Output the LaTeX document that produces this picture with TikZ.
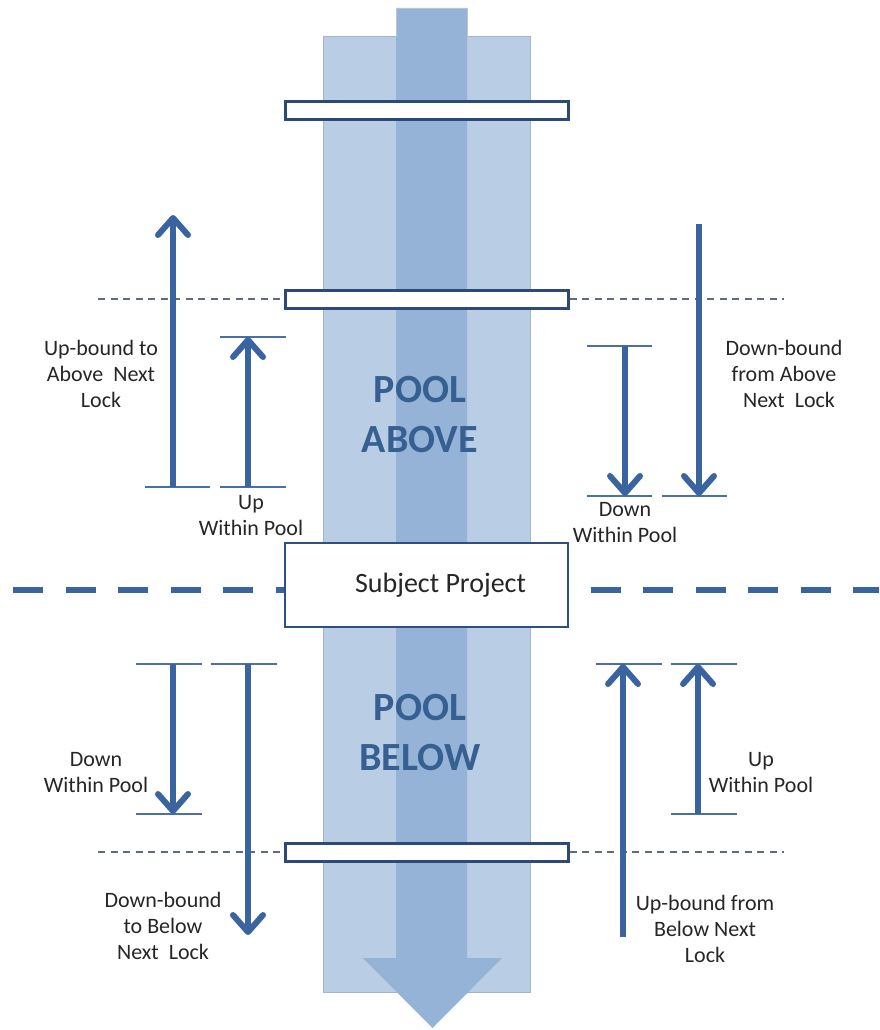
\documentclass[tikz,border=0pt]{standalone}
\usepackage{fontspec}
\setmainfont{Carlito}
\usetikzlibrary{arrows.meta}
\definecolor{colLight}{HTML}{B9CDE5}
\definecolor{colMid}{HTML}{95B3D7}
\definecolor{colDark}{HTML}{3A64A0}
\definecolor{colTick}{HTML}{4A6FA5}
\definecolor{colLock}{HTML}{2C4A78}
\definecolor{colText}{HTML}{376092}
\definecolor{colGray}{HTML}{5F6B80}
\definecolor{colEdge}{HTML}{A7B4C6}
\definecolor{colLabel}{HTML}{262626}
\begin{document}
\begin{tikzpicture}[x=1pt,y=-1pt,
  flowarrow/.style={line width=6pt, draw=colDark, -{Straight Barb[length=17pt,width=30pt,line width=6pt,round]}},
  tickline/.style={line width=2pt, draw=colTick},
  lockbox/.style={draw=colLock, line width=3pt, fill=white, minimum width=283pt, minimum height=18pt, inner sep=0pt},
  subjbox/.style={draw=colLock!80!colDark, line width=2.5pt, fill=white, minimum width=283pt, minimum height=84pt, inner sep=0pt, font=\fontsize{28}{32}\selectfont, text=colLabel},
  lbl/.style={font=\fontsize{22}{26}\selectfont, align=center, text=colLabel, inner sep=0pt},
  pooltext/.style={font=\bfseries\fontsize{40}{50}\selectfont, align=center, text=colText, inner sep=0pt},
  bigdash/.style={line width=6pt, draw=colDark, dash pattern=on 30pt off 22.5pt},
  thindash/.style={line width=2pt, draw=colGray, dash pattern=on 7pt off 5.5pt}
]
\useasboundingbox (0,0) rectangle (879,1030);

% channel and flow
\fill[colLight] (323,37) rectangle (530,992);
\draw[colEdge, line width=1pt] (323,37) rectangle (530,992);
\fill[colMid] (396,8) -- (467,8) -- (467,958) -- (502,958) -- (432.5,1028) -- (363,958) -- (396,958) -- cycle;
\draw[colEdge!80, line width=0.8pt] (396,37) -- (396,8) -- (467,8) -- (467,37);

% thick dashed boundary
\coordinate (dL) at (13,590);
\coordinate (dR) at (879,590);
\draw[bigdash] (dL) -- (dR);

% locks
\node[lockbox] (lock1) at (426.5,111) {};
\node[lockbox] (lock2) at (426.5,299) {};
\node[lockbox] (lock3) at (426.5,852) {};
\node[subjbox] (subj) at (426.5,585) {\hspace*{28pt}Subject Project};

% thin dashed lines
\coordinate (tLa) at (98,299);
\coordinate (tRa) at (784,299);
\coordinate (tLb) at (98,852);
\coordinate (tRb) at (784,852);
\draw[thindash] (tLa) -- (lock2.west);
\draw[thindash] (lock2.east) -- (tRa);
\draw[thindash] (tLb) -- (lock3.west);
\draw[thindash] (lock3.east) -- (tRb);

% pool texts
\node[pooltext] (pa) at (420,415) {POOL\\ABOVE};
\node[pooltext] (pb) at (420,733) {POOL\\BELOW};

% tick lines
\draw[tickline] (145,487) -- (210,487);
\draw[tickline] (220,337) -- (286,337);
\draw[tickline] (220,487) -- (286,487);
\draw[tickline] (587,346) -- (652,346);
\draw[tickline] (587,496) -- (652,496);
\draw[tickline] (662,496) -- (727,496);
\draw[tickline] (136,664) -- (202,664);
\draw[tickline] (136,814) -- (202,814);
\draw[tickline] (211,664) -- (277,664);
\draw[tickline] (596,664) -- (662,664);
\draw[tickline] (671,664) -- (737,664);
\draw[tickline] (671,814) -- (737,814);

% arrow end points
\coordinate (a1s) at (173,487); \coordinate (a1e) at (173,215);
\coordinate (a2s) at (248,487); \coordinate (a2e) at (248,337);
\coordinate (a3s) at (625,346); \coordinate (a3e) at (625,496);
\coordinate (a4s) at (699,224); \coordinate (a4e) at (699,496);
\coordinate (a5s) at (173,664); \coordinate (a5e) at (173,814);
\coordinate (a6s) at (248,664); \coordinate (a6e) at (248,935);
\coordinate (a7s) at (623,937); \coordinate (a7e) at (623,664);
\coordinate (a8s) at (698,814); \coordinate (a8e) at (698,664);
\draw[flowarrow] (a1s) -- (a1e);
\draw[flowarrow] (a2s) -- (a2e);
\draw[flowarrow] (a3s) -- (a3e);
\draw[flowarrow] (a4s) -- (a4e);
\draw[flowarrow] (a5s) -- (a5e);
\draw[flowarrow] (a6s) -- (a6e);
\draw[flowarrow] (a7s) -- (a7e);
\draw[flowarrow] (a8s) -- (a8e);

% labels
\node[lbl] (l1) at (101,374) {Up-bound to\\Above\ \ Next\\Lock};
\node[lbl] (l2) at (251,516) {Up\\Within Pool};
\node[lbl] (l3) at (625,523) {Down\\Within Pool};
\node[lbl] (l4) at (784,374) {Down-bound\\from Above\\\ \ Next\ \ Lock};
\node[lbl] (l5) at (96,773) {Down\\Within Pool};
\node[lbl] (l6) at (163,926) {Down-bound\\to Below\\Next\ \ Lock};
\node[lbl] (l7) at (761,773) {Up\\Within Pool};
\node[lbl] (l8) at (705,929) {Up-bound from\\Below Next\\Lock};
\end{tikzpicture}
\end{document}
